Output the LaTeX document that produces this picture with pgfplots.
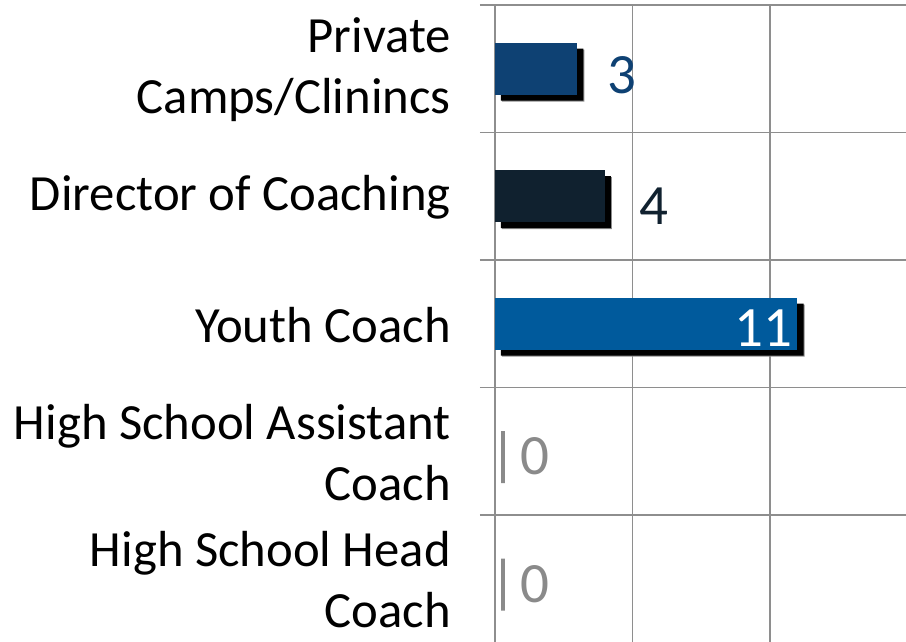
\documentclass[border=0pt]{standalone}
\usepackage{pgfplots}
\pgfplotsset{compat=1.18}
\usepackage{fontspec}
\setmainfont{Carlito}
\definecolor{cA}{HTML}{0E4173}
\definecolor{cB}{HTML}{10212F}
\definecolor{cC}{HTML}{005A9C}
\definecolor{gridc}{HTML}{8E8E8E}
\definecolor{zeroc}{HTML}{8A8A8A}
\begin{document}
\begin{tikzpicture}[x=1pt,y=1pt]
\begin{axis}[
  at={(495pt,-0.5pt)}, anchor=south west,
  scale only axis, width=412.5pt, height=637.5pt,
  xmin=0, xmax=15, ymin=0.5, ymax=5.5,
  clip=false,
  /pgf/number format/assume math mode=true,
  axis line style={draw=none},
  xtick={0,5,10,15}, xticklabels={}, xmajorgrids,
  major grid style={draw=gridc, line width=1.3pt},
  minor grid style={draw=gridc, line width=1.3pt},
  ytick={1,2,3,4,5},
  yticklabels={High School Head\\Coach, High School Assistant\\Coach, Youth Coach, Director of Coaching, Private\\Camps/Clinincs},
  yticklabel style={align=right, font=\fontsize{50.7}{61}\selectfont, inner sep=0pt, xshift=-44pt, yshift=-1pt},
  minor ytick={0.5,1.5,2.5,3.5,4.5,5.5}, yminorgrids,
  major tick length=0pt, minor tick length=15pt, tick align=outside,
  ytick pos=left,
  minor tick style={draw=gridc, line width=1.3pt},
  major tick style={draw=none},
]
% shadows
\addplot[xbar, bar width=52pt, bar shift=0pt, fill=black!45, draw=none, xshift=7pt, yshift=-7pt, forget plot] coordinates {(3,5) (4,4) (11,3)};
\addplot[xbar, bar width=52pt, bar shift=0pt, fill=black, draw=none, xshift=6pt, yshift=-6pt, forget plot] coordinates {(3,5) (4,4) (11,3)};
\addplot[xbar, bar width=52pt, bar shift=0pt, fill=none, draw=zeroc, line width=4pt, xshift=8pt, yshift=-6pt, forget plot] coordinates {(0,2) (0,1)};
% bars
\addplot[xbar, bar width=52pt, bar shift=0pt, fill=cA, draw=none,
  nodes near coords, every node near coord/.append style={anchor=west, inner sep=0pt, xshift=30pt, yshift=-6pt, font=\fontsize{57}{57}\selectfont, text=cA}] coordinates {(3,5)};
\addplot[xbar, bar width=52pt, bar shift=0pt, fill=cB, draw=none,
  nodes near coords, every node near coord/.append style={anchor=west, inner sep=0pt, xshift=34pt, yshift=-10pt, font=\fontsize{57}{57}\selectfont, text=cB}] coordinates {(4,4)};
\addplot[xbar, bar width=52pt, bar shift=0pt, fill=cC, draw=none,
  nodes near coords, every node near coord/.append style={anchor=east, inner sep=0pt, xshift=-5pt, yshift=-4pt, font=\fontsize{57}{57}\selectfont, text=white}] coordinates {(11,3)};
\addplot[xbar, bar width=52pt, bar shift=0pt, fill=none, draw=none,
  nodes near coords, every node near coord/.append style={anchor=west, inner sep=0pt, xshift=25pt, yshift=-5pt, font=\fontsize{57}{57}\selectfont, text=zeroc}] coordinates {(0,2) (0,1)};
\end{axis}
\pgfresetboundingbox
\path[use as bounding box] (0,0) rectangle (906,642);
\end{tikzpicture}
\end{document}
